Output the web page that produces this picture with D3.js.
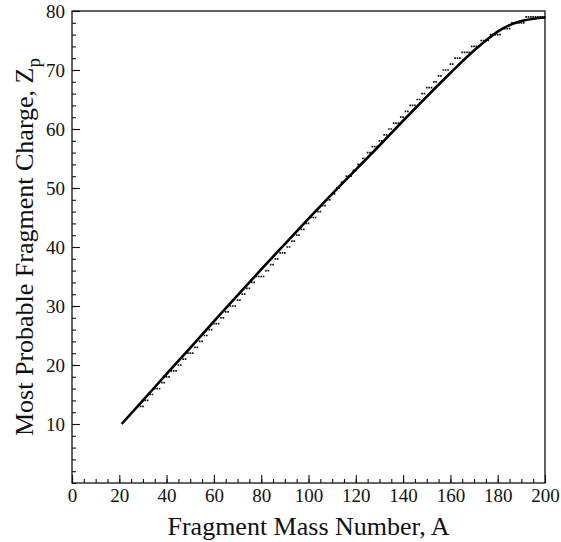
<!DOCTYPE html>
<html>
<head>
<meta charset="utf-8">
<script src="https://cdn.jsdelivr.net/npm/d3@7"></script>
<style>
  body { margin: 0; background: #fff; }
  svg { display: block; }
  text { font-family: "Liberation Serif", "DejaVu Serif", serif; fill: #111; }
</style>
</head>
<body>
<div id="container"></div>
<script>
// smooth curve (solid line)
const lineA = [21, 30, 40, 50, 60, 70, 80, 90, 100, 110, 120, 130, 140, 150, 160, 170, 175, 180, 185, 190, 195, 200];
const lineZ = [10, 14.0, 18.5, 22.9, 27.4, 31.8, 36.2, 40.5, 44.8, 49.0, 53.1, 57.2, 61.4, 65.5, 69.5, 73.3, 75.0, 76.5, 77.6, 78.3, 78.7, 78.9];

// integer Z steps (dotted marks): charge, first A, last A
const stepZ     = [13, 14, 15, 16, 17, 18, 19, 20, 21, 22, 23, 24, 25, 26, 27, 28, 29, 30, 31, 32, 33, 34, 35, 36, 37, 38, 39, 40, 41, 42, 43, 44, 45, 46, 47, 48, 49, 50, 51, 52, 53, 54, 55, 56, 57, 58, 59, 60, 61, 62, 63, 64, 65, 66, 67, 68, 69, 70, 71, 72, 73, 74, 75, 76, 77, 78, 79];
const stepStart = [28, 31, 33, 35, 38, 40, 42, 45, 47, 49, 52, 54, 56, 58, 60, 63, 65, 67, 70, 72, 74, 76, 78, 82, 84, 86, 88, 91, 93, 95, 97, 99, 101, 104, 106, 108, 110, 112, 114, 116, 119, 121, 123, 125, 127, 130, 132, 134, 136, 139, 141, 143, 146, 148, 150, 153, 155, 157, 160, 162, 165, 169, 173, 177, 182, 186, 192];
const stepEnd   = [30, 32, 34, 37, 39, 41, 44, 46, 48, 51, 53, 55, 57, 59, 62, 64, 66, 69, 71, 73, 75, 77, 81, 83, 85, 87, 90, 92, 94, 96, 98, 100, 103, 105, 107, 109, 111, 113, 115, 118, 120, 122, 124, 126, 129, 131, 133, 135, 138, 140, 142, 145, 147, 149, 152, 154, 156, 159, 161, 164, 168, 172, 176, 181, 185, 191, 200];

const xMajor = [0, 20, 40, 60, 80, 100, 120, 140, 160, 180, 200];
const yMajor = [10, 20, 30, 40, 50, 60, 70, 80];

const width = 561;
const height = 542;
const svg = d3.select('#container').append('svg')
  .attr('width', width)
  .attr('height', height);

const x = d3.scaleLinear().domain([0, 200]).range([72, 545]);
const y = d3.scaleLinear().domain([0, 80]).range([483, 11]);

// minor ticks
svg.append('g')
  .attr('transform', `translate(0,${y(0)})`)
  .call(d3.axisBottom(x).tickValues(d3.range(0, 201, 5)).tickSize(-4).tickFormat(''))
  .call(g => g.select('.domain').remove());
svg.append('g')
  .attr('transform', `translate(${x(0)},0)`)
  .call(d3.axisLeft(y).tickValues(d3.range(0, 81, 2)).tickSize(-4).tickFormat(''))
  .call(g => g.select('.domain').remove());

// major ticks + labels
const xAxis = svg.append('g')
  .attr('transform', `translate(0,${y(0)})`)
  .call(d3.axisBottom(x).tickValues(xMajor).tickSize(-8).tickPadding(6).tickFormat(d3.format('d')));
xAxis.select('.domain').remove();
xAxis.selectAll('text').attr('font-size', 19).attr('font-family', null);

const yAxis = svg.append('g')
  .attr('transform', `translate(${x(0)},0)`)
  .call(d3.axisLeft(y).tickValues(yMajor).tickSize(-8).tickPadding(7).tickFormat(d3.format('d')));
yAxis.select('.domain').remove();
yAxis.selectAll('text').attr('font-size', 19).attr('font-family', null);

svg.selectAll('.tick line').attr('stroke', '#111').attr('stroke-width', 1.1);

// frame
svg.append('rect')
  .attr('x', x(0)).attr('y', y(80))
  .attr('width', x(200) - x(0)).attr('height', y(0) - y(80))
  .attr('fill', 'none').attr('stroke', '#111').attr('stroke-width', 1.3);

// dotted steps
const unit = x(1) - x(0);
svg.append('g')
  .selectAll('line')
  .data(stepZ.map((z, i) => ({z, a0: stepStart[i], a1: stepEnd[i]})))
  .enter()
  .append('line')
  .attr('x1', d => x(d.a0 - 0.35))
  .attr('x2', d => x(d.a1 + 0.35))
  .attr('y1', d => y(d.z))
  .attr('y2', d => y(d.z))
  .attr('stroke', '#111')
  .attr('stroke-width', 1.7)
  .attr('stroke-dasharray', `${unit * 0.7} ${unit * 0.3}`);

// solid curve
const line = d3.line()
  .x(d => x(d[0]))
  .y(d => y(d[1]))
  .curve(d3.curveMonotoneX);
svg.append('path')
  .datum(lineA.map((a, i) => [a, lineZ[i]]))
  .attr('d', line)
  .attr('fill', 'none')
  .attr('stroke', '#000')
  .attr('stroke-width', 2.6);

// axis titles
svg.append('text')
  .attr('x', (x(0) + x(200)) / 2)
  .attr('y', 535)
  .attr('text-anchor', 'middle')
  .attr('font-size', 26)
  .text('Fragment Mass Number, A');

const yTitle = svg.append('text')
  .attr('transform', `translate(33,${(y(0) + y(80)) / 2}) rotate(-90)`)
  .attr('text-anchor', 'middle')
  .attr('font-size', 26);
yTitle.append('tspan').text('Most Probable Fragment Charge, Z');
yTitle.append('tspan').attr('font-size', 19).attr('dy', 7).text('p');
</script>
</body>
</html>
